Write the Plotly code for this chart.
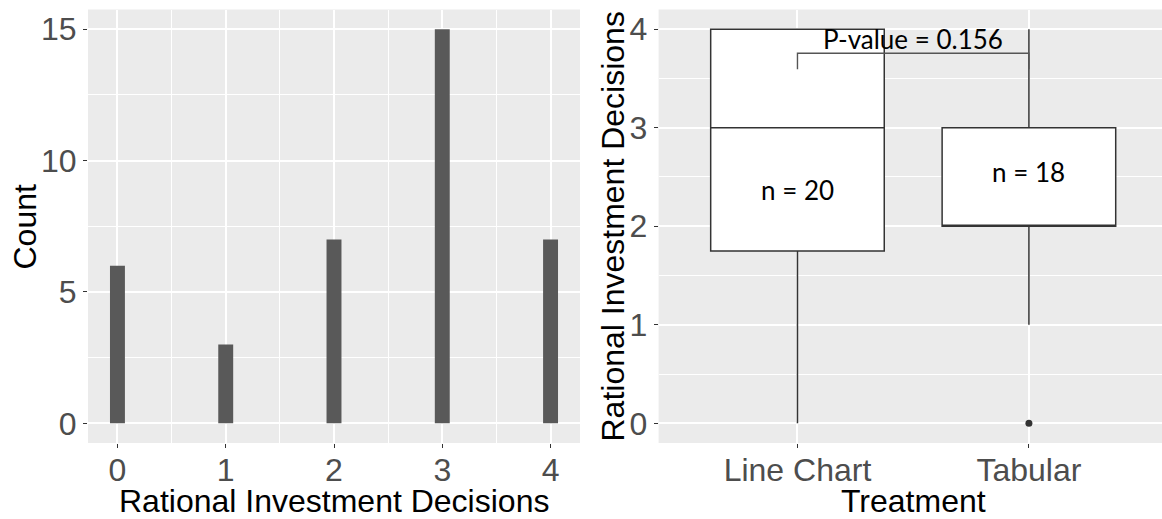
import plotly.graph_objects as go

# Histogram of rational investment decisions (all participants)
decision_values = [0, 1, 2, 3, 4]
decision_counts = [6, 3, 7, 15, 7]
bin_width = 4 / 29  # 30 bins across the 0..4 range

# Box-plot summary per treatment group
treatments = ["Line Chart", "Tabular"]
q1_values = [1.75, 2]
median_values = [3, 2]
q3_values = [4, 3]
lower_whisker = [0, 1]
upper_whisker = [4, 4]
outlier_groups = ["Tabular"]
outlier_values = [0]
group_sizes = [20, 18]
p_value = 0.156

# Label placement
n_label_y = [2.37, 2.55]
bracket_top = 3.756
bracket_bottom = 3.593
p_label_y = 3.905
box_width = 0.75

AXIS_FONT = "Liberation Sans, Arial, sans-serif"
NOTE_FONT = "Lato, Carlito, Calibri, sans-serif"
PANEL_BG = "#EBEBEB"
TICK_GREY = "#4D4D4D"
LINE_GREY = "#333333"

W, H = 1162, 519


def px_x(p):
    return p / W


def px_y(p):
    return 1 - p / H


fig = go.Figure()

fig.add_trace(go.Bar(
    x=decision_values, y=decision_counts, width=bin_width,
    marker=dict(color="#595959", line=dict(width=0)),
    xaxis="x", yaxis="y", showlegend=False, hoverinfo="x+y",
))

fig.add_trace(go.Box(
    x=treatments, q1=q1_values, median=median_values, q3=q3_values,
    lowerfence=lower_whisker, upperfence=upper_whisker,
    width=box_width, whiskerwidth=0,
    fillcolor="white", line=dict(color=LINE_GREY, width=1.5),
    boxpoints=False, xaxis="x2", yaxis="y2", showlegend=False,
))

# thicker median bars, as in ggplot boxplots
for i, (t, m) in enumerate(zip(treatments, median_values)):
    fig.add_trace(go.Scatter(
        x=[i - box_width / 2, i + box_width / 2], y=[m, m], mode="lines",
        line=dict(color=LINE_GREY, width=2.5), xaxis="x2", yaxis="y2",
        showlegend=False, hoverinfo="skip",
    ))

fig.add_trace(go.Scatter(
    x=outlier_groups, y=outlier_values, mode="markers",
    marker=dict(color=LINE_GREY, size=7), xaxis="x2", yaxis="y2",
    showlegend=False,
))

grid_major = dict(showgrid=True, gridcolor="white", gridwidth=2)
tick_style = dict(ticks="outside", ticklen=4, tickwidth=1, tickcolor=LINE_GREY,
                  tickfont=dict(family=AXIS_FONT, size=32, color=TICK_GREY),
                  zeroline=False, showline=False)

annotations = []
for i, (n, y) in enumerate(zip(group_sizes, n_label_y)):
    annotations.append(dict(
        x=i, y=y, xref="x2", yref="y2", text=f"n = {n}", showarrow=False,
        font=dict(family=NOTE_FONT, size=26, color="black"),
    ))
annotations.append(dict(
    x=0.5, y=p_label_y, xref="x2", yref="y2", text=f"P-value = {p_value}",
    showarrow=False, font=dict(family=NOTE_FONT, size=26, color="black"),
))

title_font = dict(family=AXIS_FONT, size=32, color="black")
annotations += [
    dict(x=px_x(334), y=px_y(501), xref="paper", yref="paper",
         text="Rational Investment Decisions", showarrow=False, font=title_font,
         xanchor="center", yanchor="middle"),
    dict(x=px_x(913), y=px_y(501), xref="paper", yref="paper",
         text="Treatment", showarrow=False, font=title_font,
         xanchor="center", yanchor="middle"),
    dict(x=px_x(24), y=px_y(226.5), xref="paper", yref="paper",
         text="Count", showarrow=False, font=title_font, textangle=-90,
         xanchor="center", yanchor="middle"),
    dict(x=px_x(612), y=px_y(226.5), xref="paper", yref="paper",
         text="Rational Investment Decisions", showarrow=False, font=title_font,
         textangle=-90, xanchor="center", yanchor="middle"),
]

fig.update_layout(
    width=W, height=H,
    margin=dict(l=0, r=0, t=0, b=0),
    paper_bgcolor="white", plot_bgcolor=PANEL_BG,
    showlegend=False,
    xaxis=dict(domain=[px_x(88), px_x(580)], range=[-0.272, 4.272],
               tickvals=decision_values, anchor="y", ticklabelstandoff=-5,
               **grid_major, **tick_style,
               minor=dict(dtick=0.5, tick0=0.5, showgrid=True, gridcolor="white",
                          gridwidth=1, ticks="")),
    yaxis=dict(domain=[px_y(443), px_y(9.5)], range=[-0.75, 15.75],
               tickvals=[0, 5, 10, 15], anchor="x", **grid_major, **tick_style,
               minor=dict(dtick=2.5, tick0=2.5, showgrid=True, gridcolor="white",
                          gridwidth=1, ticks="")),
    xaxis2=dict(domain=[px_x(658.6), 1.0], type="category", anchor="y2",
                categoryarray=treatments, range=[-0.6, 1.575], ticklabelstandoff=-5,
                **grid_major, **tick_style),
    yaxis2=dict(domain=[px_y(443), px_y(9.5)], range=[-0.2, 4.2],
                tickvals=[0, 1, 2, 3, 4], anchor="x2", **grid_major, **tick_style,
                minor=dict(dtick=0.5, tick0=0.5, showgrid=True, gridcolor="white",
                           gridwidth=1, ticks="")),
    shapes=[dict(
        type="path", xref="x2", yref="y2",
        path=f"M 0,{bracket_bottom} L 0,{bracket_top} L 1,{bracket_top} L 1,{bracket_bottom}",
        line=dict(color="#555555", width=1.4),
    )],
    annotations=annotations,
)

fig.write_html("out.html")
